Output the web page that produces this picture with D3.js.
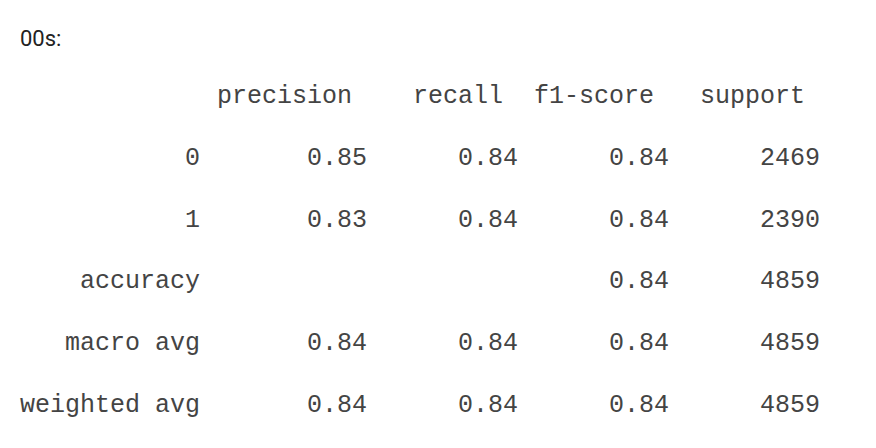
<!DOCTYPE html>
<html>
<head>
<meta charset="utf-8">
<script src="https://cdn.jsdelivr.net/npm/d3@7"></script>
<style>
  body { margin: 0; background: #fff; }
  #title { font: 22px Roboto, "Liberation Sans", Arial, sans-serif; fill: #222; }
</style>
</head>
<body>
<svg id="chart" width="876" height="448"></svg>
<script>
var title = "00s:";
var columns = ["precision", "recall", "f1-score", "support"];
var rowLabels = ["0", "1", "accuracy", "macro avg", "weighted avg"];
var precision = [0.85, 0.83, null, 0.84, 0.84];
var recall = [0.84, 0.84, null, 0.84, 0.84];
var f1 = [0.84, 0.84, 0.84, 0.84, 0.84];
var support = [2469, 2390, 4859, 4859, 4859];

var svg = d3.select("#chart");

svg.append("text")
    .attr("id", "title")
    .attr("x", 20).attr("y", 46)
    .text(title);

/* column right edges */
var x = d3.scalePoint().domain(columns).range([367, 820]);
var y = d3.scalePoint().domain(["header"].concat(rowLabels)).range([103, 412]);
var mono = "'Courier New', Courier, 'Nimbus Mono PS', 'Liberation Mono', monospace";

var g = svg.append("g")
    .style("font-family", mono)
    .style("font-size", "25px")
    .style("font-weight", "300")
    .style("fill", "#444")
    .attr("text-anchor", "end");

g.selectAll(".head").data(columns).enter().append("text")
    .attr("x", function (d) { return x(d) - 15; })
    .attr("y", y("header"))
    .text(function (d) { return d; });

g.selectAll(".lbl").data(rowLabels).enter().append("text")
    .attr("x", 200)
    .attr("y", function (d) { return y(d); })
    .text(function (d) { return d; });

var series = [precision, recall, f1, support];
series.forEach(function (vals, ci) {
    vals.forEach(function (v, ri) {
        if (v == null) return;
        g.append("text")
            .attr("x", x(columns[ci]))
            .attr("y", y(rowLabels[ri]))
            .text(ci == 3 ? v : v.toFixed(2));
    });
});
</script>
</body>
</html>
